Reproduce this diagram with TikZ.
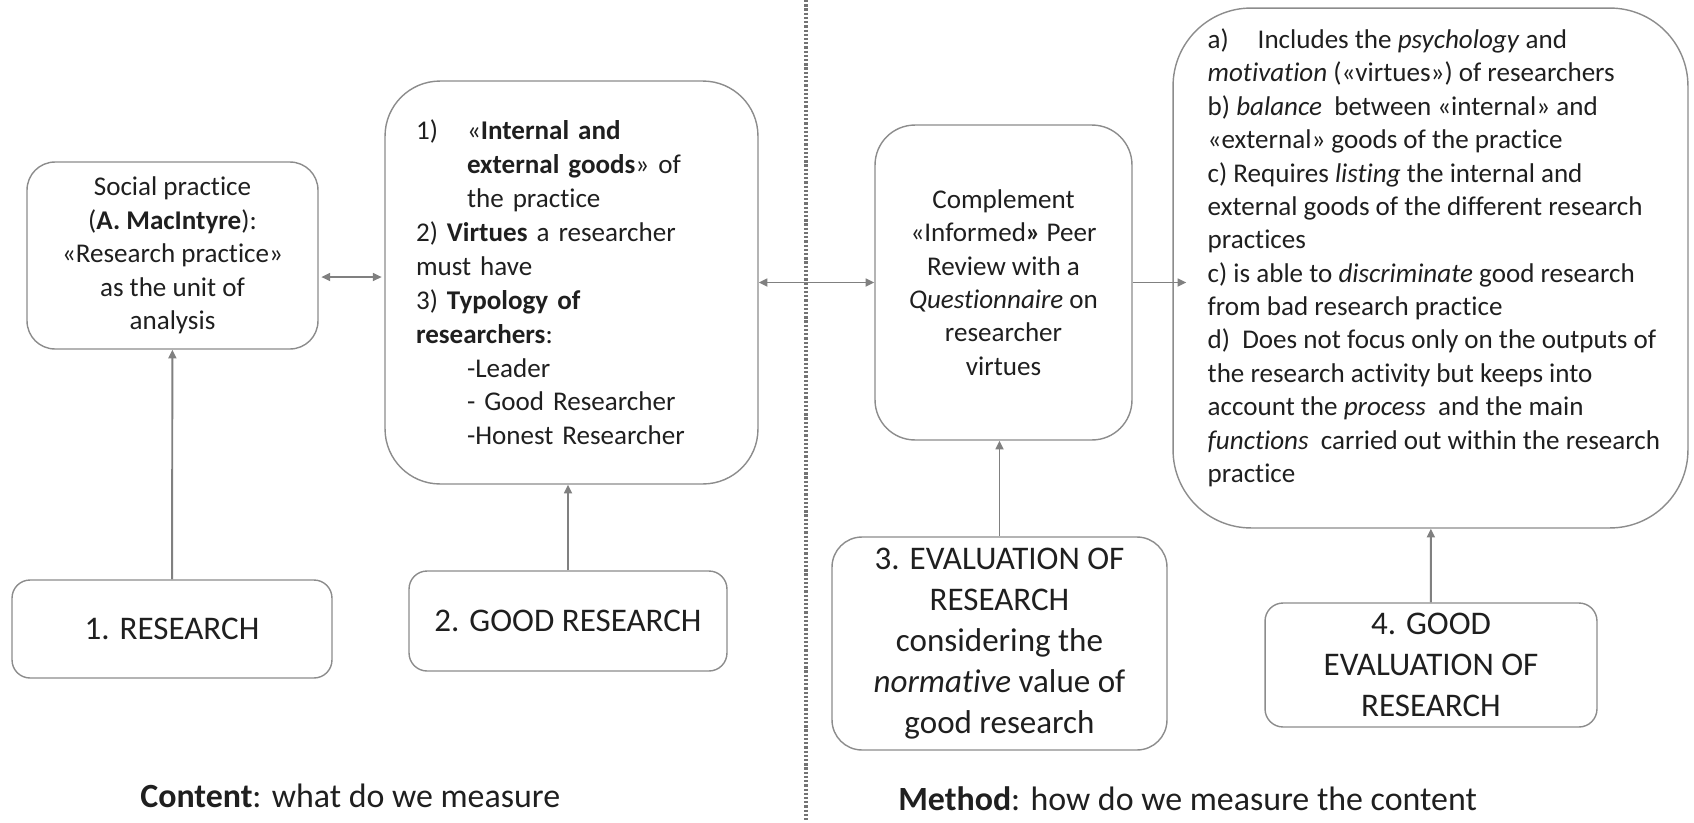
\documentclass[tikz,border=0pt]{standalone}
\usepackage{fontspec}
\setmainfont{Carlito}[Ligatures=NoCommon]
\usetikzlibrary{arrows.meta}

\begin{document}
\begin{tikzpicture}[x=0.02cm,y=-0.02cm,->,>={Triangle[length=5pt,width=4.5pt]},
	link/.style={draw=black!50,line width=1.1pt},
	box/.style={draw=black!45,line width=0.8pt,inner sep=0pt,text=black!88,align=center,font=\fontsize{15.4}{19}\selectfont},
	headbox/.style={box,rounded corners=0.36cm,font=\fontsize{18.8}{23.3}\selectfont},
	caption/.style={anchor=base west,inner sep=0pt,text=black!88,font=\fontsize{19.3}{23}\selectfont}]
\useasboundingbox (0,0) rectangle (1694,822);

\node [box,rounded corners=0.56cm,minimum width=5.82cm,minimum height=3.74cm] (practice) at (172.5,255.5) {Social practice\\(\textbf{A. MacIntyre}):\\«Research practice»\\as the unit of\\analysis};
\node [box,rounded corners=1.1cm,minimum width=7.46cm,minimum height=8.06cm,text width=6.22cm,inner xsep=0.62cm,align=left,font=\fontsize{15.4}{19.3}\selectfont] (goods) at (571.5,282.5) {\makebox[1.02cm][l]{1)}«\textbf{Internal and}\\
	\hspace*{1.02cm}\textbf{external goods}» of\\
	\hspace*{1.02cm}the practice\\
	2) \textbf{Virtues} a researcher\\
	must have\\
	3) \textbf{Typology of}\\
	\textbf{researchers}:\\
	\hspace*{1.02cm}-Leader\\
	\hspace*{1.02cm}- Good Researcher\\
	\hspace*{1.02cm}-Honest Researcher};
\node [box,rounded corners=0.8cm,minimum width=5.14cm,minimum height=6.3cm] (review) at (1003.5,282.5) {Complement\\«Informed\textbf{»} Peer\\Review with a\\\textit{Questionnaire} on\\researcher\\virtues};
\node [box,rounded corners=1.56cm,minimum width=10.3cm,minimum height=10.4cm] (evalbox) at (1430.5,268) {};
\node [box,draw=none,anchor=north west,align=left] (evaltext) at (1207,28) {\makebox[1cm][l]{a)}Includes the \textit{psychology} and\\
	\textit{motivation} («virtues») of researchers\\
	b) \textit{balance} ~between «internal» and\\
	«external» goods of the practice\\
	c) Requires \textit{listing} the internal and\\
	external goods of the different research\\
	practices\\
	c) is able to \textit{discriminate} good research\\
	from bad research practice\\
	d)~ Does not focus only on the outputs of\\
	the research activity but keeps into\\
	account the \textit{process} ~and the main\\
	\textit{functions} ~carried out within the research\\
	practice};

\node [headbox,minimum width=6.4cm,minimum height=1.96cm] (research) at (172,629) {1. RESEARCH};
\node [headbox,minimum width=6.36cm,minimum height=2cm] (goodres) at (568,621) {2. GOOD RESEARCH};
\node [headbox,rounded corners=0.6cm,minimum width=6.7cm,minimum height=4.26cm] (evalres) at (999.5,643.5) {3. EVALUATION OF\\RESEARCH\\considering the\\\textit{normative} value of\\good research};
\node [headbox,minimum width=6.64cm,minimum height=2.48cm] (goodeval) at (1431,665) {4. GOOD\\EVALUATION OF\\RESEARCH};

\node [caption] (content) at (140,807) {\textbf{Content}: what do we measure};
\node [caption] (method) at (898,810) {\textbf{Method}: how do we measure the content};

\draw [-,black!55,line width=1.8pt,dash pattern=on 1.3pt off 1.1pt] (806,0) -- (806,822);

\draw [link,<->,shorten <=1.5pt,shorten >=1.5pt] ([yshift=0.11cm]goods.west -| practice.east) -- ([yshift=0.11cm]goods.west);
\draw [link,<->] (goods.east) -- (review.west);
\draw [link,shorten >=-8pt] (review.east) -- (review.east -| evalbox.west);
\draw [link] (research) -- (practice);
\draw [link] (goodres.north) -- (goodres.north |- goods.south);
\draw [link] (evalres.north) -- (evalres.north |- review.south);
\draw [link] (goodeval) -- (evalbox);
\end{tikzpicture}
\end{document}
